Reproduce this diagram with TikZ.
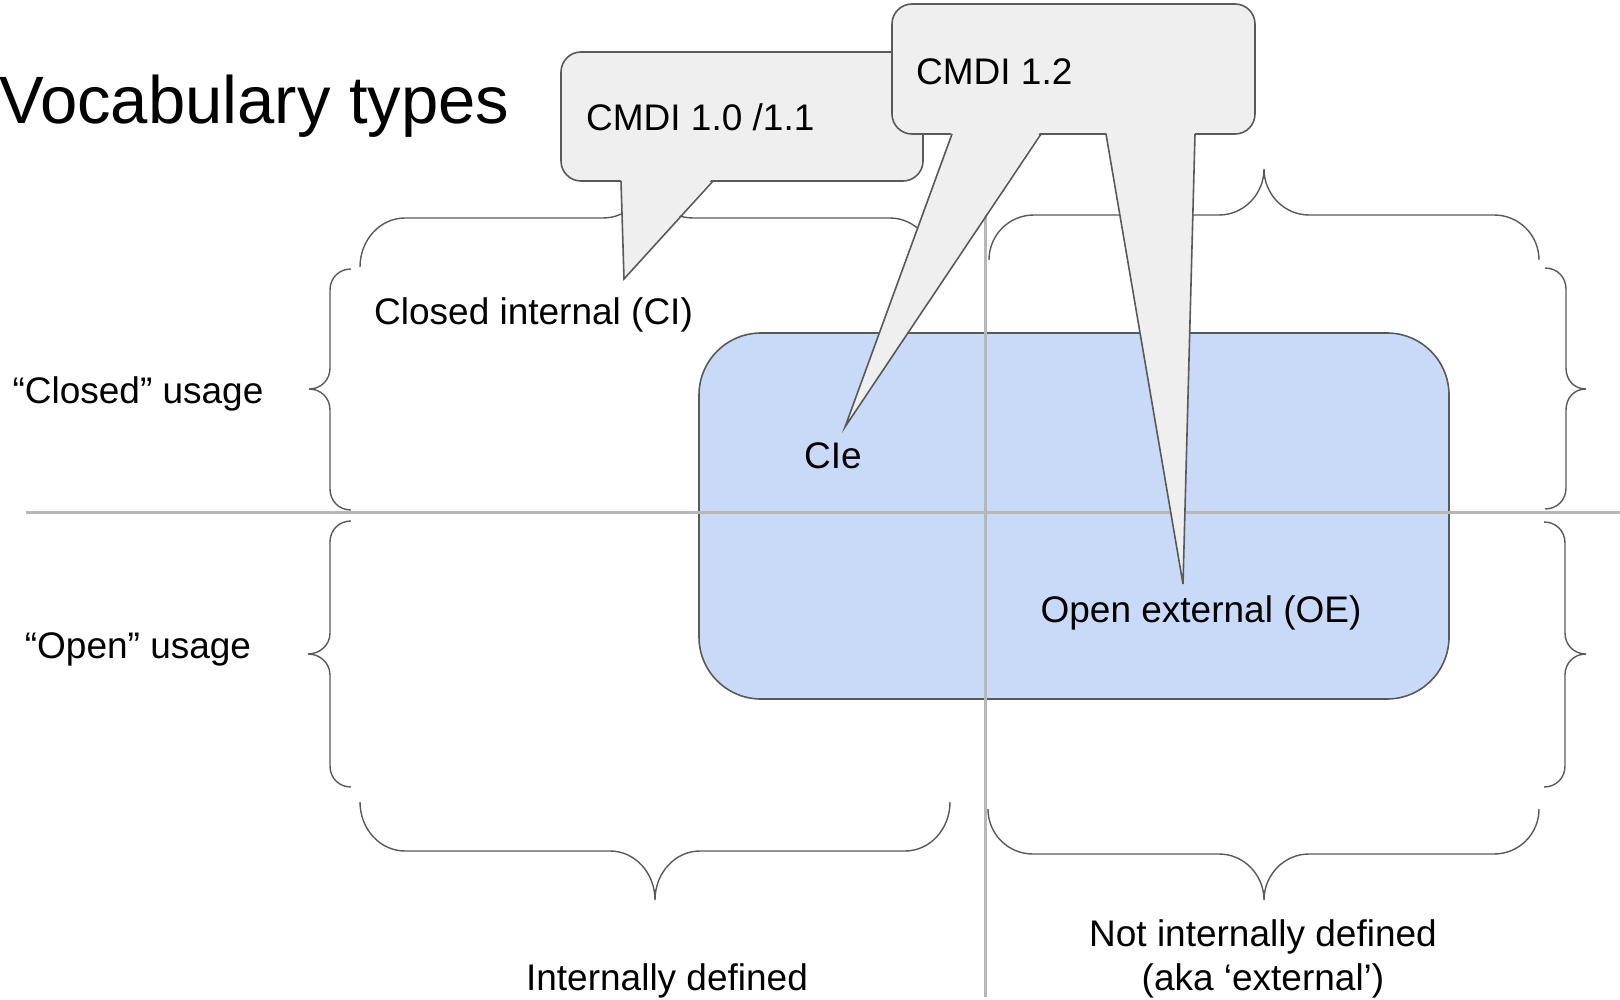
\documentclass[tikz,border=0pt]{standalone}
\usepackage{fontspec}
\setmainfont{Liberation Sans}
\definecolor{grau}{HTML}{595959}
\definecolor{hgrau}{HTML}{B7B7B7}
\definecolor{blaul}{HTML}{C9DAF8}
\definecolor{blasel}{HTML}{EFEFEF}
\tikzset{
  klammer/.style={grau,line width=1.4pt},
  trenn/.style={hgrau,line width=3pt},
  feld/.style={fill=blaul,draw=grau,line width=1.6pt,rounded corners=62pt},
  blase/.style={fill=blasel,draw=grau,line width=1.6pt,rounded corners=20pt},
  zipfel/.style={fill=blasel},
  rand/.style={grau,line width=1.6pt},
  txt/.style={font=\fontsize{37}{44}\selectfont,inner sep=0pt},
  titel/.style={font=\fontsize{67}{74}\selectfont,inner sep=0pt},
}

\begin{document}
\begin{tikzpicture}[x=1pt,y=-1pt]
  \useasboundingbox (0,0) rectangle (1620,1000);
  % Klammern links und rechts
  \draw[klammer] (351,269) .. controls (339,269) and (330,278) .. (330,290) -- (330,368)
    .. controls (330,380) and (321,389) .. (309,389) .. controls (321,389) and (330,398) .. (330,410)
    -- (330,489) .. controls (330,501) and (339,510) .. (351,510);
  \draw[klammer] (351,521) .. controls (339,521) and (330,530) .. (330,542) -- (330,633)
    .. controls (330,645) and (320,654) .. (308,654) .. controls (320,654) and (330,663) .. (330,675)
    -- (330,766) .. controls (330,778) and (339,787) .. (351,787);
  \draw[klammer] (1545,268) .. controls (1557,268) and (1566,277) .. (1566,289) -- (1566,368)
    .. controls (1566,380) and (1574,389) .. (1586,389) .. controls (1574,389) and (1566,398) .. (1566,410)
    -- (1566,488) .. controls (1566,500) and (1557,509) .. (1545,509);
  \draw[klammer] (1544,522) .. controls (1556,522) and (1565,531) .. (1565,543) -- (1565,633)
    .. controls (1565,645) and (1574,654) .. (1586,654) .. controls (1574,654) and (1565,663) .. (1565,675)
    -- (1565,766) .. controls (1565,778) and (1556,787) .. (1544,787);
  % Klammern oben und unten
  \draw[klammer] (360,267) .. controls (360,240) and (380,218) .. (405,218) -- (603,218)
    .. controls (628,218) and (648,197) .. (648,171) .. controls (648,197) and (668,218) .. (693,218)
    -- (890,218) .. controls (915,218) and (935,240) .. (935,267);
  \draw[klammer] (989,260) .. controls (989,235) and (1009,215) .. (1034,215) -- (1219,215)
    .. controls (1244,215) and (1264,194) .. (1264,169) .. controls (1264,194) and (1284,215) .. (1309,215)
    -- (1494,215) .. controls (1519,215) and (1539,235) .. (1539,260);
  \draw[klammer] (360,802) .. controls (360,829) and (380,851) .. (405,851) -- (610,851)
    .. controls (635,851) and (655,873) .. (655,900) .. controls (655,873) and (675,851) .. (700,851)
    -- (905,851) .. controls (930,851) and (950,829) .. (950,802);
  \draw[klammer] (988,809) .. controls (988,834) and (1008,854) .. (1033,854) -- (1219,854)
    .. controls (1244,854) and (1264,875) .. (1264,900) .. controls (1264,875) and (1284,854) .. (1309,854)
    -- (1494,854) .. controls (1519,854) and (1539,834) .. (1539,809);
  % Feld und Achsen
  \draw[feld] (699,333) rectangle (1449,699);
  \draw[trenn] (26,512) -- (1620,512);
  \draw[trenn] (985,200) -- (985,997);
  % Texte
  \node[titel,anchor=base west] (ueber) at (-1,124) {Vocabulary types};
  \node[txt,anchor=base] (closed) at (138,403) {“Closed” usage};
  \node[txt,anchor=base] (open) at (138,658) {“Open” usage};
  \node[txt,anchor=base west] (ci) at (374,324) {Closed internal (CI)};
  \node[txt,anchor=base] (cie) at (833,468) {CIe};
  \node[txt,anchor=base] (oe) at (1201,622) {Open external (OE)};
  \node[txt,anchor=base] (intern) at (667,990) {Internally defined};
  \node[txt,anchor=base,align=center] (extern) at (1263,990) {Not internally defined\\(aka ‘external’)};
  % Sprechblasen
  \coordinate (spitzeci) at (624,279);
  \coordinate (spitzecie) at (845,427);
  \coordinate (spitzeoe) at (1183,584);
  \draw[blase] (561,52) rectangle (923,181);
  \fill[zipfel] (621,178) -- (spitzeci) -- (713,178) -- cycle;
  \draw[rand] (621,181) -- (spitzeci) -- (713,181);
  \node[txt,anchor=base west] (v11) at (586,131) {CMDI 1.0 /1.1};
  \draw[blase] (892,4) rectangle (1255,134);
  \fill[zipfel] (952,131) -- (spitzecie) -- (1041,131) -- cycle;
  \draw[rand] (952,134) -- (spitzecie) -- (1041,134);
  \fill[zipfel] (1106,131) -- (spitzeoe) -- (1195,131) -- cycle;
  \draw[rand] (1106,134) -- (spitzeoe) -- (1195,134);
  \node[txt,anchor=base west] (v12) at (916,85) {CMDI 1.2};
\end{tikzpicture}
\end{document}
